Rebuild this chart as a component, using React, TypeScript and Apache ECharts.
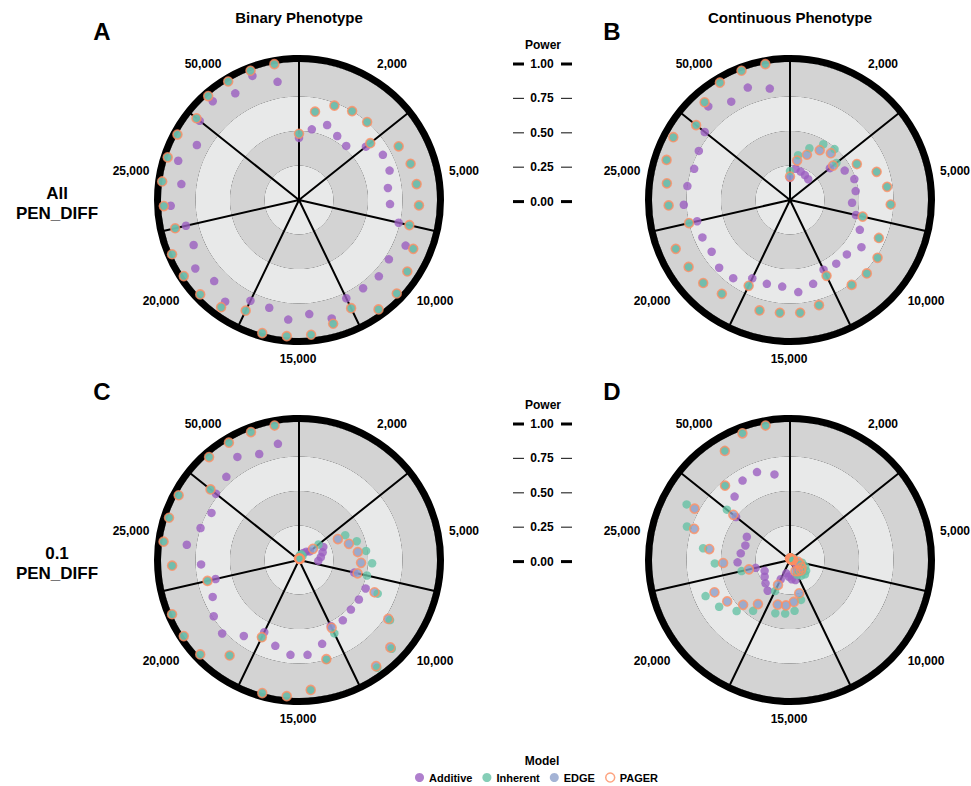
import React, { useEffect, useRef } from 'react';
import * as echarts from 'echarts';

// ---------- categories / labels ----------
const SAMPLE_SIZES = ['2,000', '5,000', '10,000', '15,000', '20,000', '25,000', '50,000'];
const POINTS_PER_SECTOR = 5;
const MODELS = ['Additive', 'Inherent', 'EDGE', 'PAGER'];
const POWER_TICKS = [1, 0.75, 0.5, 0.25, 0];
const COLUMN_TITLES = ['Binary Phenotype', 'Continuous Phenotype'];
const ROW_TITLES = [['All', 'PEN_DIFF'], ['0.1', 'PEN_DIFF']];
const PANEL_LETTERS = ['A', 'B', 'C', 'D'];

// ---------- power values (35 points per panel, clockwise from top) ----------
// Panel A: binary phenotype, all PEN_DIFF
const additiveA = [0.45, 0.52, 0.58, 0.54, 0.52, 0.62, 0.69, 0.69, 0.65, 0.66, 0.74, 0.84, 0.78, 0.80, 0.79, 0.79, 0.89, 0.83, 0.87, 0.81, 0.81, 0.91, 0.85, 0.90, 0.83, 0.84, 0.93, 0.86, 0.92, 0.84, 0.92, 0.95, 0.90, 0.96, 0.87];
const inherentA = [0.48, 0.65, 0.73, 0.75, 0.75, 0.66, 0.82, 0.85, 0.86, 0.87, 0.82, 0.90, 0.94, 0.98, 0.98, 0.87, 0.93, 0.98, 0.99, 1.00, 0.89, 0.96, 0.99, 1.00, 1.00, 0.92, 0.98, 1.00, 1.00, 1.00, 0.95, 1.00, 1.00, 1.00, 1.00];
const edgeA = [0.48, 0.65, 0.73, 0.75, 0.75, 0.66, 0.82, 0.85, 0.86, 0.87, 0.82, 0.90, 0.94, 0.98, 0.98, 0.87, 0.93, 0.98, 0.99, 1.00, 0.89, 0.96, 0.99, 1.00, 1.00, 0.92, 0.98, 1.00, 1.00, 1.00, 0.95, 1.00, 1.00, 1.00, 1.00];
const pagerA = [0.48, 0.65, 0.73, 0.75, 0.75, 0.66, 0.82, 0.85, 0.86, 0.87, 0.82, 0.90, 0.94, 0.98, 0.98, 0.87, 0.93, 0.98, 0.99, 1.00, 0.89, 0.96, 0.99, 1.00, 1.00, 0.92, 0.98, 1.00, 1.00, 1.00, 0.95, 1.00, 1.00, 1.00, 1.00];

// Panel B: continuous phenotype, all PEN_DIFF
const additiveB = [0.16, 0.23, 0.22, 0.21, 0.20, 0.37, 0.45, 0.49, 0.48, 0.45, 0.49, 0.55, 0.62, 0.57, 0.57, 0.56, 0.63, 0.67, 0.63, 0.63, 0.63, 0.70, 0.71, 0.68, 0.69, 0.69, 0.77, 0.75, 0.73, 0.75, 0.79, 0.90, 0.83, 0.87, 0.82];
const inherentB = [0.21, 0.33, 0.40, 0.47, 0.49, 0.43, 0.55, 0.66, 0.71, 0.73, 0.54, 0.70, 0.76, 0.77, 0.76, 0.61, 0.79, 0.82, 0.82, 0.83, 0.69, 0.84, 0.87, 0.88, 0.90, 0.75, 0.88, 0.90, 0.94, 0.96, 0.87, 0.94, 0.99, 1.00, 1.00];
const edgeB = [0.17, 0.29, 0.35, 0.42, 0.45, 0.40, 0.55, 0.66, 0.71, 0.73, 0.54, 0.70, 0.76, 0.77, 0.76, 0.61, 0.79, 0.82, 0.82, 0.83, 0.69, 0.84, 0.87, 0.88, 0.90, 0.75, 0.88, 0.90, 0.94, 0.96, 0.87, 0.94, 0.99, 1.00, 1.00];
const pagerB = [0.17, 0.29, 0.35, 0.42, 0.45, 0.40, 0.55, 0.66, 0.71, 0.73, 0.54, 0.70, 0.76, 0.77, 0.76, 0.61, 0.79, 0.82, 0.82, 0.83, 0.69, 0.84, 0.87, 0.88, 0.90, 0.75, 0.88, 0.90, 0.94, 0.96, 0.87, 0.94, 0.99, 1.00, 1.00];

// Panel C: binary phenotype, 0.1 PEN_DIFF
const additiveC = [0.01, 0.02, 0.04, 0.06, 0.08, 0.10, 0.20, 0.18, 0.16, 0.14, 0.41, 0.525, 0.52, 0.52, 0.54, 0.53, 0.63, 0.69, 0.69, 0.645, 0.58, 0.68, 0.77, 0.74, 0.68, 0.62, 0.71, 0.82, 0.75, 0.72, 0.77, 0.80, 0.87, 0.82, 0.855];
const inherentC = [0.02, 0.035, 0.045, 0.03, 0.04, 0.18, 0.38, 0.44, 0.49, 0.53, 0.505, 0.62, 0.79, 0.93, 0.965, 0.59, 0.75, 0.945, 0.99, 1.00, 0.625, 0.855, 0.99, 1.00, 1.00, 0.68, 0.92, 0.99, 0.99, 0.99, 0.82, 0.99, 0.99, 0.99, 0.99];
const edgeC = [0.01, 0.01, 0.01, 0.01, 0.01, 0.13, 0.32, 0.38, 0.43, 0.45, 0.435, 0.595, 0.775, 0.915, 0.95, 0.545, 0.745, 0.945, 0.99, 1.00, 0.62, 0.855, 0.99, 1.00, 1.00, 0.68, 0.92, 0.99, 0.99, 0.99, 0.82, 0.99, 0.99, 0.99, 0.99];
const pagerC = [0.01, 0.01, 0.01, 0.01, 0.01, 0.13, 0.32, 0.38, 0.43, 0.45, 0.435, 0.595, 0.775, 0.915, 0.95, 0.545, 0.745, 0.945, 0.99, 1.00, 0.62, 0.855, 0.99, 1.00, 1.00, 0.68, 0.92, 0.99, 0.99, 0.99, 0.82, 0.99, 0.99, 0.99, 0.99];

// Panel D: continuous phenotype, 0.1 PEN_DIFF
const additiveD = [0.02, 0.02, 0.02, 0.02, 0.02, 0.02, 0.02, 0.02, 0.02, 0.03, 0.03, 0.04, 0.05, 0.07, 0.09, 0.12, 0.15, 0.14, 0.12, 0.10, 0.155, 0.275, 0.245, 0.22, 0.20, 0.255, 0.38, 0.36, 0.34, 0.355, 0.50, 0.61, 0.67, 0.68, 0.63];
const inherentD = [0.02, 0.02, 0.02, 0.02, 0.02, 0.02, 0.02, 0.03, 0.03, 0.03, 0.09, 0.12, 0.14, 0.15, 0.14, 0.12, 0.30, 0.37, 0.39, 0.40, 0.25, 0.455, 0.535, 0.615, 0.665, 0.36, 0.545, 0.635, 0.785, 0.85, 0.585, 0.715, 0.925, 0.985, 0.99];
const edgeD = [0.01, 0.01, 0.01, 0.01, 0.01, 0.01, 0.01, 0.01, 0.02, 0.02, 0.06, 0.08, 0.10, 0.11, 0.10, 0.09, 0.25, 0.305, 0.33, 0.335, 0.20, 0.395, 0.47, 0.545, 0.595, 0.305, 0.485, 0.59, 0.73, 0.785, 0.525, 0.715, 0.92, 0.98, 0.99];
const pagerD = [0.01, 0.01, 0.01, 0.01, 0.01, 0.01, 0.01, 0.01, 0.02, 0.02, 0.06, 0.08, 0.10, 0.11, 0.10, 0.09, 0.25, 0.305, 0.33, 0.335, 0.20, 0.395, 0.47, 0.545, 0.595, 0.305, 0.485, 0.59, 0.73, 0.785, 0.525, 0.715, 0.92, 0.98, 0.99];

// ---------- layout / style ----------
const FONT = '"Liberation Sans", Arial, Helvetica, sans-serif';
const COLORS: Record<string, string> = {
  Additive: '#9b5fc0',
  Inherent: '#66c2a5',
  EDGE: '#8da0cb',
  PAGER: '#fc8d62',
};
const POLAR_RADIUS = 141.5;
const R_MAX = 1.025; // power 1.0 sits at the inner edge of the thick outer ring
const PANEL_CENTERS: [number, number][] = [[299, 200], [790, 200], [299, 560], [790, 560]];
const LETTER_POS: [number, number][] = [[102, 31], [612, 31], [102, 391], [612, 391]];
// label offsets from each panel centre, one per sector
const LABEL_OFFSETS: [number, number][] = [[93, -136], [165, -29], [136, 101], [-1, 159], [-138, 101], [-168, -29], [-96, -136]];

const PANELS = [
  { additive: additiveA, inherent: inherentA, edge: edgeA, pager: pagerA },
  { additive: additiveB, inherent: inherentB, edge: edgeB, pager: pagerB },
  { additive: additiveC, inherent: inherentC, edge: edgeC, pager: pagerC },
  { additive: additiveD, inherent: inherentD, edge: edgeD, pager: pagerD },
];

function txt(x: number, y: number, s: string, size: number, extra: any = {}) {
  return {
    type: 'text',
    x,
    y,
    silent: true,
    z: 10,
    style: {
      text: s,
      fontSize: size,
      fontWeight: 'bold',
      fontFamily: FONT,
      fill: '#000',
      align: 'center',
      verticalAlign: 'middle',
      ...extra,
    },
  };
}

function powerLegend(y0: number) {
  const els: any[] = [txt(543, y0 - 19.5, 'Power', 12)];
  POWER_TICKS.forEach((v) => {
    const y = y0 + (1 - v) * 137.6;
    const major = v === 1 || v === 0;
    els.push(txt(542, y, v.toFixed(2), 12));
    [[513, 524], [561, 572]].forEach(([a, b]) =>
      els.push({
        type: 'line',
        silent: true,
        shape: { x1: a, y1: y, x2: b, y2: y },
        style: { stroke: major ? '#000' : '#333', lineWidth: major ? 3 : 1.2 },
      })
    );
  });
  return els;
}

function buildOption() {
  const nPoints = SAMPLE_SIZES.length * POINTS_PER_SECTOR;

  const polar = PANEL_CENTERS.map((c) => ({ center: c, radius: [0, POLAR_RADIUS] }));
  const angleAxis = PANEL_CENTERS.map((_, k) => ({
    polarIndex: k,
    type: 'value',
    min: 0,
    max: nPoints,
    interval: POINTS_PER_SECTOR,
    startAngle: 90,
    clockwise: true,
    z: 1,
    axisLine: { show: true, lineStyle: { color: '#000', width: 7 } },
    axisTick: { show: false },
    axisLabel: { show: false },
    splitLine: { show: true, lineStyle: { color: '#000', width: 2 } },
    splitArea: { show: false },
  }));
  const radiusAxis = PANEL_CENTERS.map((_, k) => ({
    polarIndex: k,
    type: 'value',
    min: 0,
    max: R_MAX,
    interval: 0.25,
    z: 0,
    axisLine: { show: false },
    axisTick: { show: false },
    axisLabel: { show: false },
    splitLine: { show: true, lineStyle: { color: '#000', width: 1 } },
    splitArea: { show: true, areaStyle: { color: ['#e8e9e9', '#d3d3d3'] } },
  }));

  const series: any[] = [];
  PANELS.forEach((p, k) => {
    const mk = (name: string, values: number[]) => {
      const base: any = {
        type: 'scatter',
        name,
        coordinateSystem: 'polar',
        polarIndex: k,
        symbol: 'circle',
        data: values.map((v, i) => [v, i]),
        emphasis: { disabled: true },
      };
      if (name === 'PAGER') {
        base.symbolSize = 9;
        base.itemStyle = { color: 'rgba(0,0,0,0)', borderColor: COLORS.PAGER, borderWidth: 1.6 };
      } else {
        base.symbolSize = 8.5;
        base.itemStyle = { color: COLORS[name] };
      }
      return base;
    };
    series.push(mk('Additive', p.additive));
    series.push(mk('EDGE', p.edge));
    series.push(mk('Inherent', p.inherent));
    series.push(mk('PAGER', p.pager));
  });

  const graphic: any[] = [];
  PANEL_LETTERS.forEach((l, k) => graphic.push(txt(LETTER_POS[k][0], LETTER_POS[k][1], l, 24)));
  COLUMN_TITLES.forEach((t, c) => graphic.push(txt(PANEL_CENTERS[c][0], 17, t, 15)));
  ROW_TITLES.forEach((lines, r) => {
    const cy = PANEL_CENTERS[r * 2][1];
    lines.forEach((ln, j) => graphic.push(txt(57, cy - 7 + j * 20.5, ln, 17)));
  });
  PANEL_CENTERS.forEach(([cx, cy]) => {
    SAMPLE_SIZES.forEach((s, i) => {
      graphic.push(txt(cx + LABEL_OFFSETS[i][0], cy + LABEL_OFFSETS[i][1], s, 12));
    });
  });
  graphic.push(...powerLegend(64));
  graphic.push(...powerLegend(424));
  graphic.push(txt(542, 761, 'Model', 12));

  return {
    animation: false,
    backgroundColor: '#ffffff',
    textStyle: { fontFamily: FONT },
    polar,
    angleAxis,
    radiusAxis,
    legend: {
      data: MODELS.map((m) =>
        m === 'PAGER'
          ? { name: m, icon: 'circle', itemStyle: { color: '#ffffff', borderColor: COLORS.PAGER, borderWidth: 1.5 } }
          : { name: m, icon: 'circle', itemStyle: { color: COLORS[m] } }
      ),
      left: 415,
      top: 772,
      padding: 0,
      itemWidth: 9,
      itemHeight: 9,
      itemGap: 10,
      selectedMode: false,
      textStyle: { fontSize: 11, fontWeight: 'bold', color: '#000', fontFamily: FONT },
    },
    graphic,
    series,
  };
}

export default function App() {
  const ref = useRef<HTMLDivElement>(null);
  useEffect(() => {
    if (!ref.current) return;
    const chart = echarts.init(ref.current, undefined, { renderer: 'svg' });
    chart.setOption(buildOption() as any);
    return () => chart.dispose();
  }, []);
  return (
    <div
      ref={ref}
      style={{ position: 'absolute', left: 0, top: 0, width: 971, height: 786, background: '#fff' }}
    />
  );
}
